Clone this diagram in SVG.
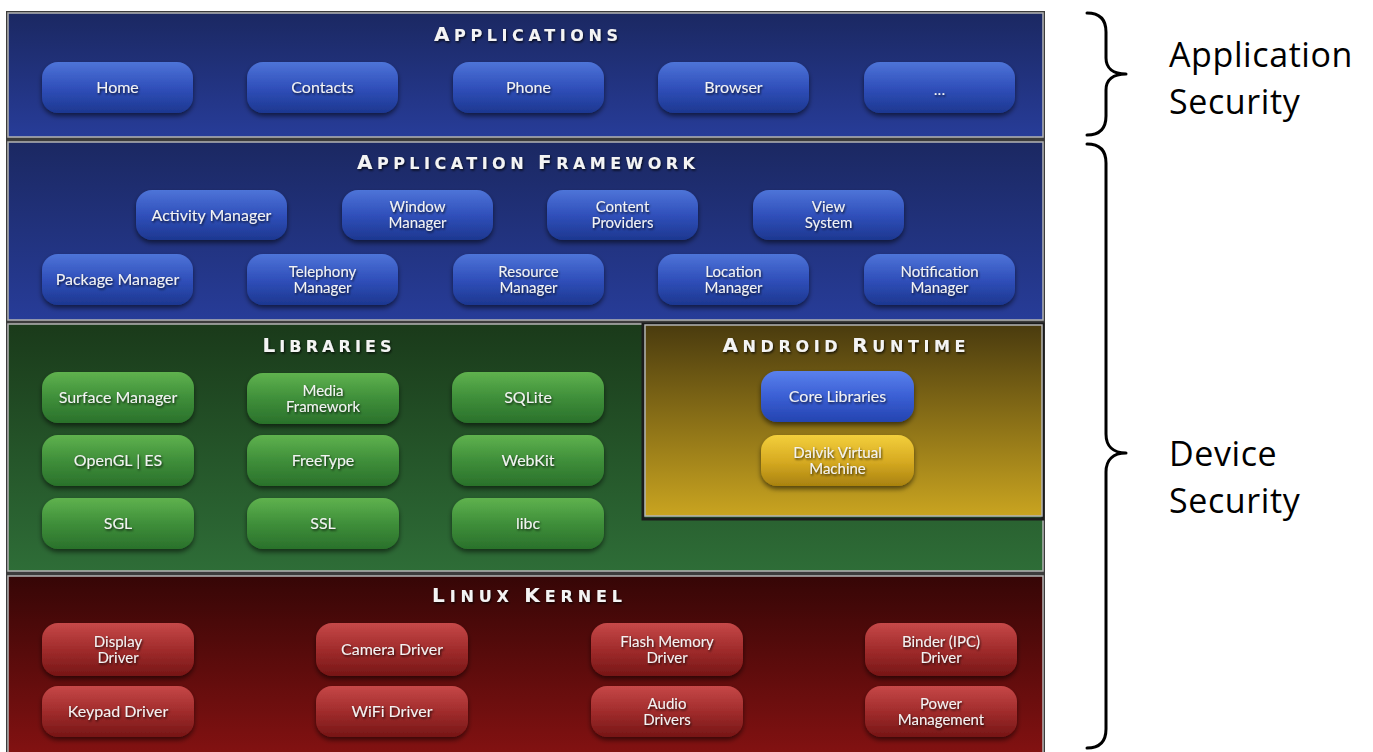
<svg xmlns="http://www.w3.org/2000/svg" width="1373" height="752" viewBox="0 0 1373 752">
<defs>
<linearGradient id="bgBlue" x1="0" y1="0" x2="0" y2="1"><stop offset="0" stop-color="#1b2862"/><stop offset="1" stop-color="#273c98"/></linearGradient>
<linearGradient id="bgGreen" x1="0" y1="0" x2="0" y2="1"><stop offset="0" stop-color="#1a3a1a"/><stop offset="1" stop-color="#2e6d37"/></linearGradient>
<linearGradient id="bgOlive" x1="0" y1="0" x2="0" y2="1"><stop offset="0" stop-color="#4a3b0e"/><stop offset="1" stop-color="#c9a420"/></linearGradient>
<linearGradient id="bgRed" x1="0" y1="0" x2="0" y2="1"><stop offset="0" stop-color="#360606"/><stop offset="1" stop-color="#861212"/></linearGradient>
<linearGradient id="bxBlue" x1="0" y1="0" x2="0" y2="1"><stop offset="0" stop-color="#4e74d8"/><stop offset="0.5" stop-color="#3050bb"/><stop offset="1" stop-color="#1d3790"/></linearGradient>
<linearGradient id="bxBlue2" x1="0" y1="0" x2="0" y2="1"><stop offset="0" stop-color="#5a80ec"/><stop offset="0.5" stop-color="#3a5fd4"/><stop offset="1" stop-color="#2444b0"/></linearGradient>
<linearGradient id="bxGreen" x1="0" y1="0" x2="0" y2="1"><stop offset="0" stop-color="#5fb24e"/><stop offset="0.5" stop-color="#3f8f3a"/><stop offset="1" stop-color="#2a712b"/></linearGradient>
<linearGradient id="bxYellow" x1="0" y1="0" x2="0" y2="1"><stop offset="0" stop-color="#f3cf3c"/><stop offset="0.5" stop-color="#d8ac22"/><stop offset="1" stop-color="#a98210"/></linearGradient>
<linearGradient id="bxRed" x1="0" y1="0" x2="0" y2="1"><stop offset="0" stop-color="#c64848"/><stop offset="0.5" stop-color="#a12c2c"/><stop offset="1" stop-color="#761616"/></linearGradient>
<filter id="sh" x="-10%" y="-20%" width="120%" height="150%"><feDropShadow dx="0" dy="3" stdDeviation="2.5" flood-color="#000" flood-opacity="0.55"/></filter>
<filter id="tsh" x="-10%" y="-30%" width="120%" height="160%"><feDropShadow dx="1" dy="1.5" stdDeviation="1" flood-color="#000" flood-opacity="0.75"/></filter>
</defs>
<style>
.panel{stroke:#b4b4b4;stroke-width:1.5}
.box{filter:url(#sh)}
.b{fill:url(#bxBlue)}
.g{fill:url(#bxGreen)}
.r{fill:url(#bxRed)}
.lbl{font-family:Lato,"Open Sans","Liberation Sans",sans-serif;font-size:16px;fill:#f2f2f2;text-anchor:middle;filter:url(#tsh)}
.l2{font-size:15px}
.ttl{font-family:"DejaVu Sans","Liberation Sans",sans-serif;font-weight:bold;fill:#f4f4f4;text-anchor:middle;filter:url(#tsh)}
.big{font-size:20px}
.sm{font-size:16px}
.side{font-family:"Open Sans","Liberation Sans",sans-serif;font-size:34px;fill:#000;letter-spacing:0.6px}
.brace{fill:none;stroke:#000;stroke-width:3;stroke-linecap:round;stroke-linejoin:round}
</style>

<rect x="6" y="11" width="1039" height="741" fill="#3c3c3c"/>

<g id="applications">
<rect class="panel" x="8" y="13" width="1035" height="124" fill="url(#bgBlue)"/>
<text class="ttl" x="526" y="41" textLength="184" lengthAdjust="spacing"><tspan class="big">A</tspan><tspan class="sm">PPLICATIONS</tspan></text>
</g>
<g id="home"><rect class="box b" x="42" y="62" width="151" height="51" rx="16"/><text class="lbl" x="117.5" y="93">Home</text></g>
<g id="contacts"><rect class="box b" x="247" y="62" width="151" height="51" rx="16"/><text class="lbl" x="322.5" y="93">Contacts</text></g>
<g id="phone"><rect class="box b" x="453" y="62" width="151" height="51" rx="16"/><text class="lbl" x="528.5" y="93">Phone</text></g>
<g id="browser"><rect class="box b" x="658" y="62" width="151" height="51" rx="16"/><text class="lbl" x="733.5" y="93">Browser</text></g>
<g id="more-apps"><rect class="box b" x="864" y="62" width="151" height="51" rx="16"/><text class="lbl" x="939.5" y="95">...</text></g>

<g id="application-framework">
<rect class="panel" x="8" y="142" width="1035" height="178" fill="url(#bgBlue)"/>
<text class="ttl" x="526" y="169" textLength="338" lengthAdjust="spacing"><tspan class="big">A</tspan><tspan class="sm">PPLICATION </tspan><tspan class="big">F</tspan><tspan class="sm">RAMEWORK</tspan></text>
</g>
<g id="activity-manager"><rect class="box b" x="136" y="190" width="151" height="50" rx="16"/><text class="lbl" x="211.5" y="220.5">Activity Manager</text></g>
<g id="window-manager"><rect class="box b" x="342" y="190" width="151" height="50" rx="16"/><text class="lbl l2" x="417.5" y="212">Window</text><text class="lbl l2" x="417.5" y="228">Manager</text></g>
<g id="content-providers"><rect class="box b" x="547" y="190" width="151" height="50" rx="16"/><text class="lbl l2" x="622.5" y="212">Content</text><text class="lbl l2" x="622.5" y="228">Providers</text></g>
<g id="view-system"><rect class="box b" x="753" y="190" width="151" height="50" rx="16"/><text class="lbl l2" x="828.5" y="212">View</text><text class="lbl l2" x="828.5" y="228">System</text></g>
<g id="package-manager"><rect class="box b" x="42" y="254" width="151" height="51" rx="16"/><text class="lbl" x="117.5" y="285">Package Manager</text></g>
<g id="telephony-manager"><rect class="box b" x="247" y="254" width="151" height="51" rx="16"/><text class="lbl l2" x="322.5" y="276.5">Telephony</text><text class="lbl l2" x="322.5" y="292.5">Manager</text></g>
<g id="resource-manager"><rect class="box b" x="453" y="254" width="151" height="51" rx="16"/><text class="lbl l2" x="528.5" y="276.5">Resource</text><text class="lbl l2" x="528.5" y="292.5">Manager</text></g>
<g id="location-manager"><rect class="box b" x="658" y="254" width="151" height="51" rx="16"/><text class="lbl l2" x="733.5" y="276.5">Location</text><text class="lbl l2" x="733.5" y="292.5">Manager</text></g>
<g id="notification-manager"><rect class="box b" x="864" y="254" width="151" height="51" rx="16"/><text class="lbl l2" x="939.5" y="276.5">Notification</text><text class="lbl l2" x="939.5" y="292.5">Manager</text></g>

<g id="libraries">
<rect class="panel" x="8" y="324" width="1035" height="247" fill="url(#bgGreen)"/>
<text class="ttl" x="327" y="352" textLength="129" lengthAdjust="spacing"><tspan class="big">L</tspan><tspan class="sm">IBRARIES</tspan></text>
</g>
<g id="surface-manager"><rect class="box g" x="42" y="372" width="152" height="51" rx="16"/><text class="lbl" x="118" y="403">Surface Manager</text></g>
<g id="media-framework"><rect class="box g" x="247" y="373" width="152" height="51" rx="16"/><text class="lbl l2" x="323" y="395.5">Media</text><text class="lbl l2" x="323" y="411.5">Framework</text></g>
<g id="sqlite"><rect class="box g" x="452" y="372" width="152" height="51" rx="16"/><text class="lbl" x="528" y="403">SQLite</text></g>
<g id="opengl-es"><rect class="box g" x="42" y="435" width="152" height="51" rx="16"/><text class="lbl" x="118" y="466">OpenGL | ES</text></g>
<g id="freetype"><rect class="box g" x="247" y="435" width="152" height="51" rx="16"/><text class="lbl" x="323" y="466">FreeType</text></g>
<g id="webkit"><rect class="box g" x="452" y="435" width="152" height="51" rx="16"/><text class="lbl" x="528" y="466">WebKit</text></g>
<g id="sgl"><rect class="box g" x="42" y="498" width="152" height="51" rx="16"/><text class="lbl" x="118" y="529">SGL</text></g>
<g id="ssl"><rect class="box g" x="247" y="498" width="152" height="51" rx="16"/><text class="lbl" x="323" y="529">SSL</text></g>
<g id="libc"><rect class="box g" x="452" y="498" width="152" height="51" rx="16"/><text class="lbl" x="528" y="529">libc</text></g>

<g id="android-runtime">
<rect x="643" y="324" width="400" height="195" fill="none" stroke="#1c1c1c" stroke-width="3"/>
<rect class="panel" x="645" y="325" width="397" height="191" fill="url(#bgOlive)"/>
<text class="ttl" x="844" y="352" textLength="243" lengthAdjust="spacing"><tspan class="big">A</tspan><tspan class="sm">NDROID </tspan><tspan class="big">R</tspan><tspan class="sm">UNTIME</tspan></text>
</g>
<g id="core-libraries"><rect class="box" x="761" y="371" width="153" height="51" rx="16" fill="url(#bxBlue2)"/><text class="lbl" x="837.5" y="402">Core Libraries</text></g>
<g id="dalvik-vm"><rect class="box" x="761" y="435" width="153" height="51" rx="16" fill="url(#bxYellow)"/><text class="lbl l2" x="837.5" y="457.5">Dalvik Virtual</text><text class="lbl l2" x="837.5" y="473.5">Machine</text></g>

<g id="linux-kernel">
<rect class="panel" x="8" y="576" width="1035" height="186" fill="url(#bgRed)"/>
<text class="ttl" x="527" y="602" textLength="190" lengthAdjust="spacing"><tspan class="big">L</tspan><tspan class="sm">INUX </tspan><tspan class="big">K</tspan><tspan class="sm">ERNEL</tspan></text>
</g>
<g id="display-driver"><rect class="box r" x="42" y="623" width="152" height="53" rx="16"/><text class="lbl l2" x="118" y="646.5">Display</text><text class="lbl l2" x="118" y="662.5">Driver</text></g>
<g id="camera-driver"><rect class="box r" x="316" y="623" width="152" height="53" rx="16"/><text class="lbl" x="392" y="655">Camera Driver</text></g>
<g id="flash-memory-driver"><rect class="box r" x="591" y="623" width="152" height="53" rx="16"/><text class="lbl l2" x="667" y="646.5">Flash Memory</text><text class="lbl l2" x="667" y="662.5">Driver</text></g>
<g id="binder-ipc-driver"><rect class="box r" x="865" y="623" width="152" height="53" rx="16"/><text class="lbl l2" x="941" y="646.5">Binder (IPC)</text><text class="lbl l2" x="941" y="662.5">Driver</text></g>
<g id="keypad-driver"><rect class="box r" x="42" y="686" width="152" height="51" rx="16"/><text class="lbl" x="118" y="717">Keypad Driver</text></g>
<g id="wifi-driver"><rect class="box r" x="316" y="686" width="152" height="51" rx="16"/><text class="lbl" x="392" y="717">WiFi Driver</text></g>
<g id="audio-drivers"><rect class="box r" x="591" y="686" width="152" height="51" rx="16"/><text class="lbl l2" x="667" y="708.5">Audio</text><text class="lbl l2" x="667" y="724.5">Drivers</text></g>
<g id="power-management"><rect class="box r" x="865" y="686" width="152" height="51" rx="16"/><text class="lbl l2" x="941" y="708.5">Power</text><text class="lbl l2" x="941" y="724.5">Management</text></g>

<g id="connectors">
<path class="brace" d="M1087,13 C1100,13 1106,20 1106,32 L1106,58 C1106,68 1113,74 1126,74 C1113,74 1106,80 1106,90 L1106,116 C1106,128 1100,135 1087,135"/>
<path class="brace" d="M1087,144 C1100,144 1106,151 1106,163 L1106,434 C1106,446 1113,453 1126,453 C1113,453 1106,460 1106,472 L1106,729 C1106,741 1100,748 1087,748"/>
</g>

<g id="application-security"><text class="side" x="1169" y="67">Application</text><text class="side" x="1169" y="114">Security</text></g>
<g id="device-security"><text class="side" x="1169" y="466">Device</text><text class="side" x="1169" y="513">Security</text></g>
</svg>
